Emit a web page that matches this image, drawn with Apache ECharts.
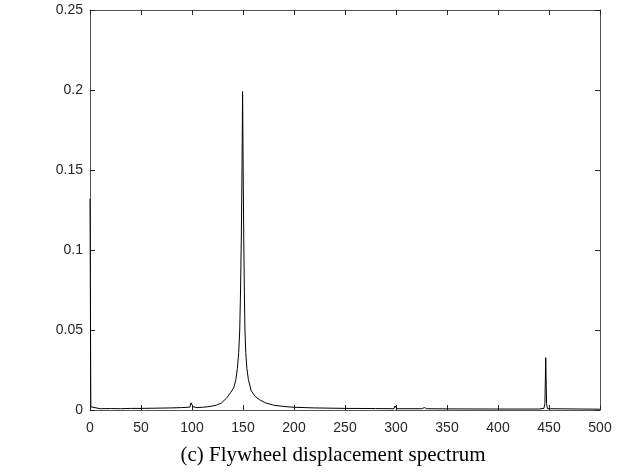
<!DOCTYPE html>
<html><head><meta charset="utf-8">
<script src="https://cdn.jsdelivr.net/npm/echarts@6/dist/echarts.min.js"></script>
<style>html,body{margin:0;padding:0;background:#fff}#c{width:621px;height:476px}</style>
</head><body><div id="c"></div>
<script>
// frequency (Hz) and amplitude
const freq = [0,0.8,2,10,20,30,40,50,60,70,80,90,98,99,100,101,105,110,115,120,124,129,134,138,141,143,144.5,145.8,146.8,147.6,148.4,149.1,149.6,150.1,150.7,151.3,151.9,152.7,153.8,155.3,158,162,166,172,180,190,200,220,250,280,298,299,300,301,325,328,330,350,400,440,445,446,446.8,447.6,448.5,450,500];
const amp = [0.132,0.002,0.0008,0.0008,0.0009,0.0008,0.001,0.001,0.0011,0.0012,0.0013,0.0015,0.0018,0.0045,0.005,0.002,0.0015,0.0017,0.002,0.0025,0.003,0.0045,0.0075,0.011,0.014,0.019,0.026,0.036,0.05,0.075,0.11,0.155,0.199,0.155,0.11,0.075,0.05,0.036,0.026,0.019,0.012,0.0085,0.0065,0.0045,0.003,0.0022,0.0017,0.0013,0.001,0.0009,0.0008,0.0025,0.0028,0.0008,0.0008,0.0015,0.0008,0.0007,0.0006,0.0006,0.001,0.004,0.0327,0.004,0.0008,0.0006,0.0005];
const xTicks = [0,50,100,150,200,250,300,350,400,450,500];
const yTicks = [0,0.05,0.1,0.15,0.2,0.25];

const chart = echarts.init(document.getElementById('c'));
const axisLine = {show:true, onZero:false, lineStyle:{color:'#555', width:1}};
const tick = {show:true, inside:true, length:5, lineStyle:{color:'#262626'}};
const lbl = {color:'#262626', fontFamily:'Liberation Sans, Arial', fontSize:14};
chart.setOption({
  animation:false,
  grid:{left:90, right:21, top:10, bottom:66},
  xAxis:[
    {type:'value', min:xTicks[0], max:xTicks[xTicks.length-1], interval:50, position:'bottom',
     axisLine, axisTick:tick, axisLabel:Object.assign({margin:11}, lbl), splitLine:{show:false}},
    {type:'value', min:xTicks[0], max:xTicks[xTicks.length-1], interval:50, position:'top',
     axisLine, axisTick:tick, axisLabel:{show:false}, splitLine:{show:false}}
  ],
  yAxis:[
    {type:'value', min:yTicks[0], max:yTicks[yTicks.length-1], interval:0.05, position:'left',
     axisLine, axisTick:tick, axisLabel:Object.assign({margin:7}, lbl), splitLine:{show:false}},
    {type:'value', min:yTicks[0], max:yTicks[yTicks.length-1], interval:0.05, position:'right',
     axisLine, axisTick:tick, axisLabel:{show:false}, splitLine:{show:false}}
  ],
  graphic:[{type:'text', x:333, y:455, style:{text:'(c) Flywheel displacement spectrum', fill:'#000',
    font:'21px "Liberation Serif", "Times New Roman", serif', textAlign:'center', textVerticalAlign:'middle'}}],
  series:[{type:'line', data:freq.map((f,i)=>[f,amp[i]]), showSymbol:false, symbol:'none',
    lineStyle:{color:'#000', width:1}, xAxisIndex:0, yAxisIndex:0}]
});
</script></body></html>
